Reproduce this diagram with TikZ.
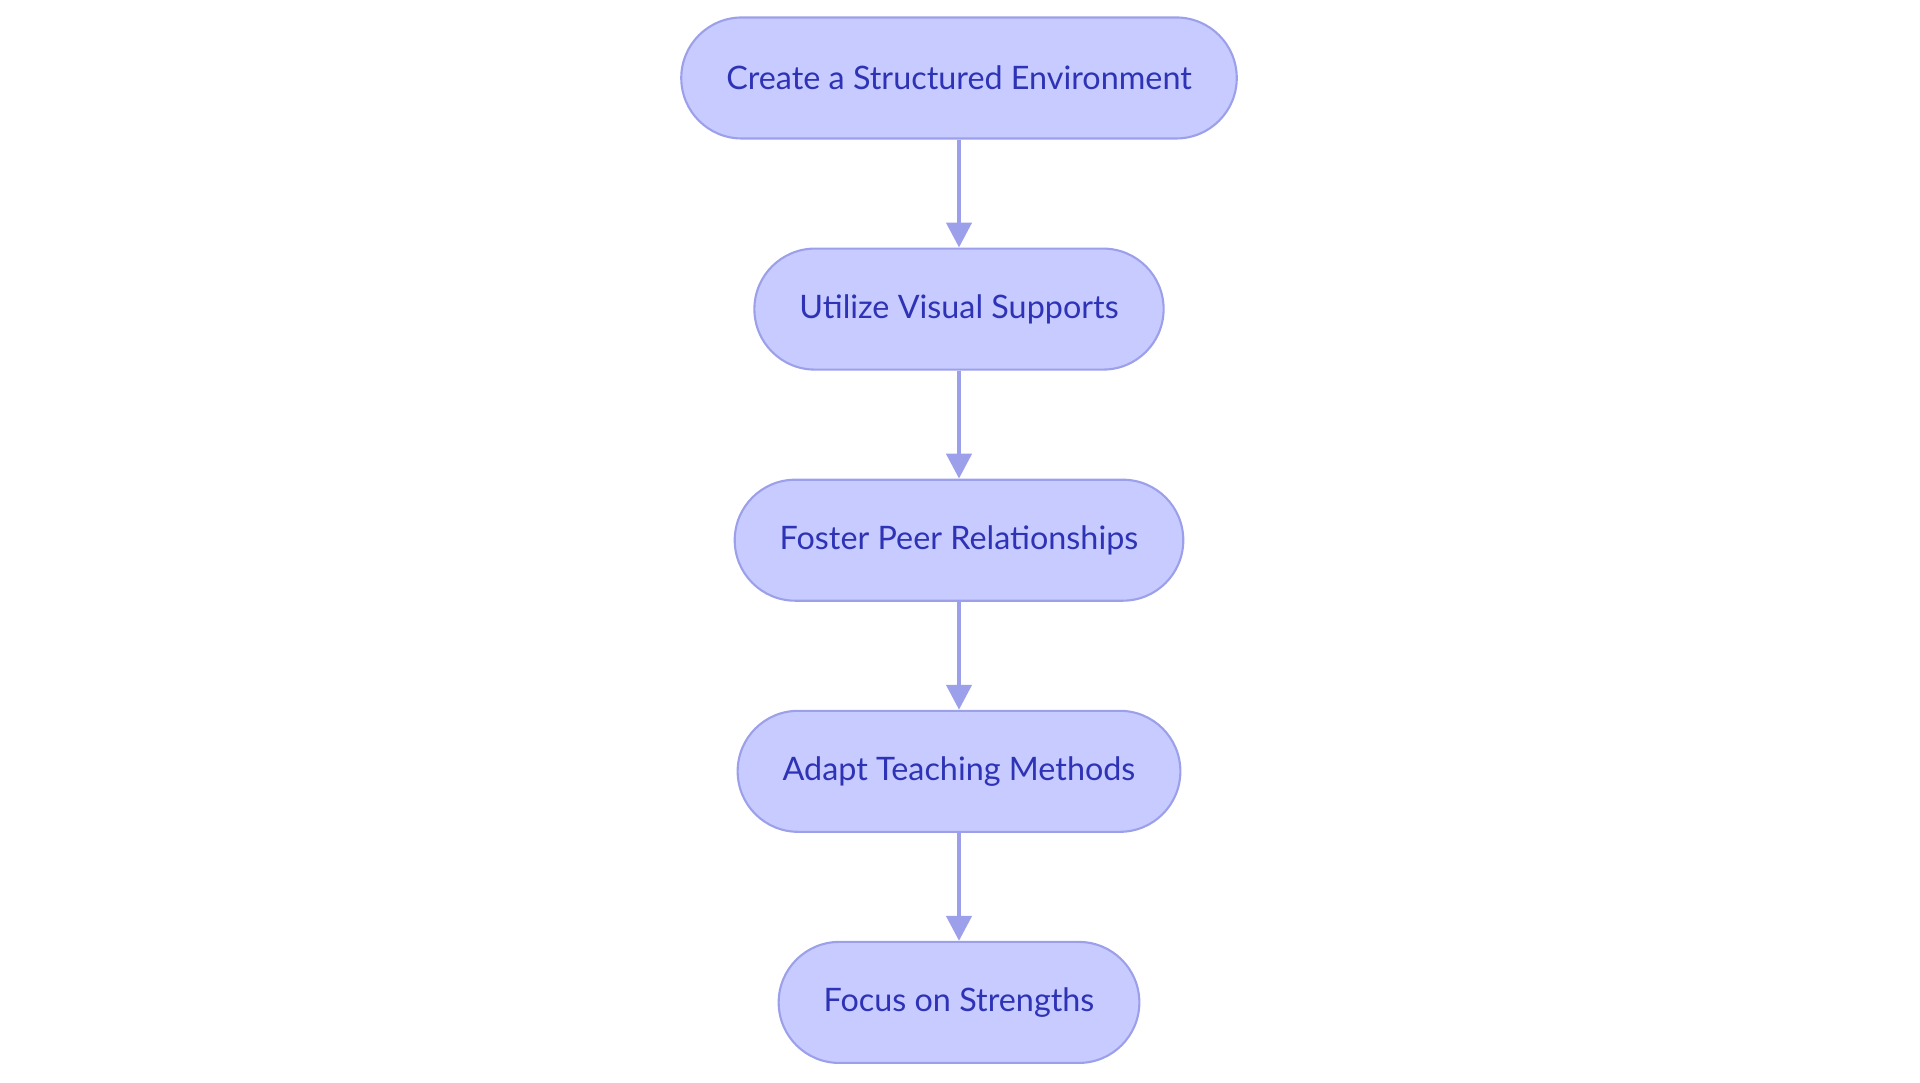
\documentclass[tikz,border=0pt]{standalone}
\usepackage{fontspec}
\setmainfont{Lato}
\usepackage{tikz}
\usetikzlibrary{arrows.meta, positioning}
\usepackage{xcolor}
\definecolor{boxfill}{HTML}{C7CBFF}
\definecolor{boxline}{HTML}{9CA0EA}
\definecolor{boxtext}{HTML}{2E33B5}

\tikzset{
  stepnode/.style={draw=boxline, fill=boxfill, line width=0.6pt,
                   rounded corners=0.605cm, minimum height=1.21cm,
                   inner xsep=0.45cm, text=boxtext,
                   font=\fontsize{9.2}{11}\selectfont},
  flow/.style={draw=boxline, line width=1.3pt,
               -{Triangle[width=0.25cm, length=0.25cm]}}
}

\begin{document}
\begin{tikzpicture}[node distance=1.08cm]
      \useasboundingbox (0,0) rectangle (19.2,10.83);
      \node[stepnode] (structure) at (9.59, 10.05) {Create a Structured Environment};
      \node[stepnode, below=of structure] (visual) {Utilize Visual Supports};
      \node[stepnode, below=of visual] (peers) {Foster Peer Relationships};
      \node[stepnode, below=of peers] (adapt) {Adapt Teaching Methods};
      \node[stepnode, below=of adapt] (strengths) {Focus on Strengths};

      \draw[flow] (structure) -- (visual);
      \draw[flow] (visual) -- (peers);
      \draw[flow] (peers) -- (adapt);
      \draw[flow] (adapt) -- (strengths);
    \end{tikzpicture}
\end{document}
